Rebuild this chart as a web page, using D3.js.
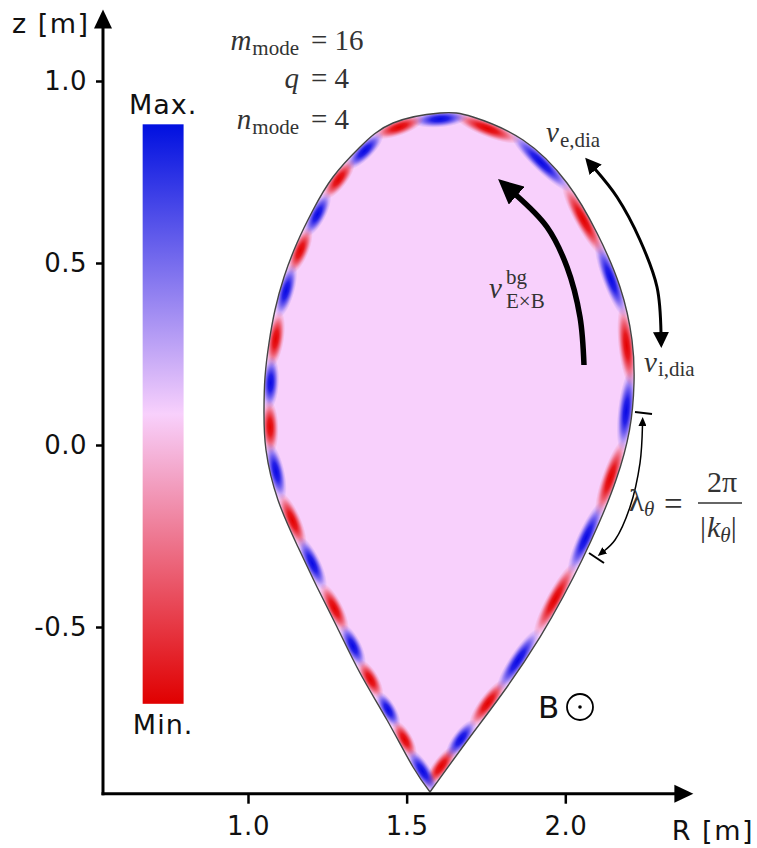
<!DOCTYPE html>
<html lang="en">
<head>
<meta charset="utf-8">
<title>Edge mode</title>
<script src="https://cdn.jsdelivr.net/npm/d3@7"></script>
<style>
body { margin: 0; background: #fff; }
text { font-family: "DejaVu Sans", sans-serif; fill: #111; }
.math { font-family: "Liberation Serif", serif; fill: #333; }
</style>
</head>
<body>
<script>
var w = 757, h = 848;

// axes
var rTicks = [1.0, 1.5, 2.0];
var zTicks = [1.0, 0.5, 0.0, -0.5];
var rAxisExtent = [0.543, 2.35];
var zAxisExtent = [-0.958, 1.15];

// separatrix boundary (R, z), from X-point round and back to X-point
var boundary = [
  [1.5736, -0.9533], [1.6997, -0.8022], [1.8163, -0.6648], [1.9203, -0.5275],
  [1.9927, -0.4176], [2.0526, -0.3159], [2.1062, -0.2143], [2.1598, -0.0962],
  [2.2023, 0.0412], [2.2165, 0.1703], [2.2102, 0.2885], [2.1724, 0.4341],
  [2.0999, 0.5824], [2.0054, 0.7198], [1.8667, 0.8379], [1.7091, 0.9011],
  [1.6051, 0.9121], [1.4570, 0.8846], [1.3530, 0.8187], [1.2679, 0.7363],
  [1.2049, 0.6456], [1.1544, 0.5549], [1.1135, 0.4615], [1.0851, 0.3709],
  [1.0662, 0.2802], [1.0536, 0.1868], [1.0504, 0.0962], [1.0567, -0.0137],
  [1.0945, -0.1511], [1.1576, -0.2802], [1.2175, -0.3901], [1.2805, -0.5000],
  [1.3530, -0.6264], [1.4381, -0.7555], [1.5200, -0.8846], [1.5736, -0.9533]
];

// mode structure: blob centres and sign (+1 max / -1 min)
var blobR = [1.6146, 1.6744, 1.7532, 1.8478, 1.9581, 2.0558, 2.1251, 2.1693,
             2.1787, 2.1314, 2.0369, 1.9108, 1.7532, 1.6051,
             1.4790, 1.3750, 1.2962, 1.2269, 1.1796, 1.1387, 1.1008, 1.0788,
             1.0788, 1.1072, 1.1418, 1.2017, 1.2647, 1.3278, 1.3782, 1.4381,
             1.4948, 1.5515];
var blobZ = [-0.887, -0.810, -0.709, -0.591, -0.418, -0.253, -0.088, 0.096,
             0.269, 0.453, 0.610, 0.764, 0.865, 0.890,
             0.863, 0.802, 0.723, 0.632, 0.530, 0.420, 0.288, 0.170,
             0.049, -0.069, -0.206, -0.324, -0.453, -0.555, -0.646, -0.728,
             -0.810, -0.893];
var blobSign = [-1, 1, -1, 1, -1, 1, -1, 1, -1, 1, -1, 1, -1, 1,
                -1, 1, -1, 1, -1, 1, -1, 1, -1, 1, -1, 1, -1, 1, -1, 1, -1, 1];

// annotation arrows
var exbArrow = [[2.0589, 0.2198], [2.0463, 0.3516], [2.0054, 0.4890], [1.9423, 0.5989], [1.8446, 0.6868]];
var diaArrow = [[2.0936, 0.7582], [2.1629, 0.6813], [2.2354, 0.5632], [2.2890, 0.4341], [2.3016, 0.3077]];
var lambdaArrow = [[2.2433, 0.055], [2.2354, -0.0495], [2.2039, -0.1703], [2.1566, -0.2610], [2.1220, -0.2912]];
var lambdaBars = [[[2.2197, 0.0907], [2.2733, 0.0852]], [[2.0747, -0.2967], [2.1220, -0.3242]]];

// colour bar
var cbarStops = ["#0010e0", "#f8d0fc", "#e00000"];
var cbarR = [0.668, 0.797];
var cbarZ = [0.881, -0.711];

var x = d3.scaleLinear().domain([1.0, 2.0]).range([248, 565.3]);
var y = d3.scaleLinear().domain([0.0, 1.0]).range([445, 81]);
var blobColor = d3.scaleOrdinal().domain([1, -1]).range(["#0808e4", "#e40000"]);

var svg = d3.select("body").append("svg")
  .attr("width", w)
  .attr("height", h);

var defs = svg.append("defs");

// colour bar gradient
var grad = defs.append("linearGradient")
  .attr("id", "cbar")
  .attr("x1", 0).attr("y1", 0).attr("x2", 0).attr("y2", 1);
grad.selectAll("stop")
  .data(cbarStops)
  .enter().append("stop")
  .attr("offset", function(d, i) { return i / (cbarStops.length - 1); })
  .attr("stop-color", function(d) { return d; });

[1, -1].forEach(function(s) {
  var rg = defs.append("radialGradient").attr("id", "blob" + (s > 0 ? "p" : "m"));
  [[0, 1], [0.3, 0.88], [0.55, 0.55], [0.8, 0.17], [1, 0]].forEach(function(st) {
    rg.append("stop").attr("offset", st[0])
      .attr("stop-color", blobColor(s)).attr("stop-opacity", st[1]);
  });
});

function marker(id, len, half) {
  defs.append("marker")
    .attr("id", id)
    .attr("markerUnits", "userSpaceOnUse")
    .attr("viewBox", [0, -half, len, 2 * half].join(" "))
    .attr("markerWidth", len)
    .attr("markerHeight", 2 * half)
    .attr("refX", 1)
    .attr("refY", 0)
    .attr("orient", "auto-start-reverse")
    .append("path")
    .attr("d", "M0," + (-half) + "L" + len + ",0L0," + half + "Z")
    .attr("fill", "#000");
}
marker("headBig", 25, 12);
marker("headMid", 16, 8);
marker("headSmall", 9, 4);

var line = d3.line()
  .x(function(d) { return x(d[0]); })
  .y(function(d) { return y(d[1]); });
var curve = d3.line()
  .x(function(d) { return x(d[0]); })
  .y(function(d) { return y(d[1]); })
  .curve(d3.curveCatmullRom.alpha(0.5));
var smooth = d3.line()
  .x(function(d) { return x(d[0]); })
  .y(function(d) { return y(d[1]); })
  .curve(d3.curveNatural);

defs.append("clipPath").attr("id", "sep")
  .append("path").attr("d", smooth(boundary));

// plasma
var sep = svg.append("path")
  .attr("d", smooth(boundary))
  .attr("fill", "#f8d0fc");

// put every blob on the boundary, a little inside, aligned with it
var node = sep.node(), L = node.getTotalLength();
var samples = d3.range(0, 1201).map(function(i) {
  var p = node.getPointAtLength(L * i / 1200);
  return [p.x, p.y, L * i / 1200];
});
var cx = x(1.62), cy = y(0.0);
var blobs = blobR.map(function(r, i) {
  var px = x(r), py = y(blobZ[i]);
  var k = d3.minIndex(samples, function(s) { return (s[0] - px) * (s[0] - px) + (s[1] - py) * (s[1] - py); });
  var a = samples[Math.max(0, k - 3)], b = samples[Math.min(samples.length - 1, k + 3)];
  var tx = b[0] - a[0], ty = b[1] - a[1], tl = Math.hypot(tx, ty);
  tx /= tl; ty /= tl;
  var nx = -ty, ny = tx;
  if (nx * (cx - samples[k][0]) + ny * (cy - samples[k][1]) < 0) { nx = -nx; ny = -ny; }
  return { s: samples[k][2], x: samples[k][0] + 6 * nx, y: samples[k][1] + 6 * ny,
           ang: Math.atan2(ty, tx) * 180 / Math.PI, sign: blobSign[i] };
});
var n = blobs.length;
blobs.forEach(function(d, i) {
  var sp = blobs[(i + 1) % n].s - blobs[(i - 1 + n) % n].s;
  if (sp < 0) sp += L;
  d.len = sp / 2;
});

svg.append("g")
  .attr("clip-path", "url(#sep)")
  .selectAll("ellipse")
  .data(blobs)
  .enter().append("ellipse")
  .attr("transform", function(d) { return "translate(" + d.x + "," + d.y + ") rotate(" + d.ang + ")"; })
  .attr("rx", function(d) { return 0.6 * d.len; })
  .attr("ry", function(d) { return Math.min(8.5, 0.23 * d.len); })
  .attr("fill", function(d) { return "url(#blob" + (d.sign > 0 ? "p" : "m") + ")"; });

svg.append("path")
  .attr("d", smooth(boundary))
  .attr("fill", "none")
  .attr("stroke", "#444")
  .attr("stroke-width", 1.4);

// axes
var x0 = x(rAxisExtent[0]), y0 = y(zAxisExtent[0]);
var xAxis = d3.axisBottom(x).tickValues(rTicks).tickSize(10).tickPadding(13)
  .tickFormat(function(d) { return d.toFixed(1); });
var yAxis = d3.axisLeft(y).tickValues(zTicks).tickSize(7).tickPadding(9)
  .tickFormat(function(d) { return d.toFixed(1); });

var gx = svg.append("g").attr("transform", "translate(0," + y0 + ")").call(xAxis);
var gy = svg.append("g").attr("transform", "translate(" + x0 + ",0)").call(yAxis);
[gx, gy].forEach(function(g) {
  g.select(".domain").remove();
  g.selectAll(".tick line").attr("stroke", "#000").attr("stroke-width", 2.5);
  g.selectAll(".tick text")
    .style("font-family", "'DejaVu Sans', sans-serif")
    .style("font-size", "26px")
    .style("letter-spacing", "0.5px")
    .attr("fill", "#111");
});

var xEnd = x(rAxisExtent[1]), yEnd = y(zAxisExtent[1]);
svg.append("line")
  .attr("x1", x0 - 1.5).attr("y1", y0).attr("x2", xEnd).attr("y2", y0)
  .attr("stroke", "#000").attr("stroke-width", 3);
svg.append("line")
  .attr("x1", x0).attr("y1", y0 + 1.5).attr("x2", x0).attr("y2", yEnd)
  .attr("stroke", "#000").attr("stroke-width", 3);
svg.append("path")
  .attr("d", "M" + (xEnd - 2) + "," + (y0 - 9) + "L" + (xEnd + 17) + "," + y0 + "L" + (xEnd - 2) + "," + (y0 + 9) + "Z")
  .attr("fill", "#000");
svg.append("path")
  .attr("d", "M" + (x0 - 9) + "," + (yEnd + 2) + "L" + x0 + "," + (yEnd - 17) + "L" + (x0 + 9) + "," + (yEnd + 2) + "Z")
  .attr("fill", "#000");

svg.append("text").attr("x", 12).attr("y", 33)
  .style("font-size", "27px").style("letter-spacing", "1.5px").text("z [m]");
svg.append("text").attr("x", 754).attr("y", 840).attr("text-anchor", "end")
  .style("font-size", "27px").style("letter-spacing", "1.5px").text("R [m]");

// colour bar
svg.append("rect")
  .attr("x", x(cbarR[0])).attr("y", y(cbarZ[0]))
  .attr("width", x(cbarR[1]) - x(cbarR[0]))
  .attr("height", y(cbarZ[1]) - y(cbarZ[0]))
  .attr("fill", "url(#cbar)");
var cbMid = (x(cbarR[0]) + x(cbarR[1])) / 2;
svg.append("text").attr("x", cbMid).attr("y", y(cbarZ[0]) - 10).attr("text-anchor", "middle")
  .style("font-size", "27px").style("letter-spacing", "1px").text("Max.");
svg.append("text").attr("x", cbMid).attr("y", y(cbarZ[1]) + 30).attr("text-anchor", "middle")
  .style("font-size", "27px").style("letter-spacing", "1px").text("Min.");

// mode parameters
function mathLine(yy, lhs, sub, rhs) {
  var t = svg.append("text").attr("class", "math").attr("x", 299).attr("y", yy)
    .attr("text-anchor", "end").style("font-size", "29px");
  t.append("tspan").style("font-style", "italic").text(lhs);
  if (sub) t.append("tspan").attr("dx", 1).attr("dy", 5).style("font-size", "21px").text(sub);
  svg.append("text").attr("class", "math").attr("x", 311).attr("y", yy)
    .style("font-size", "29px").text(rhs);
}
mathLine(50, "m", "mode", "= 16");
mathLine(88, "q", null, "= 4");
mathLine(129, "n", "mode", "= 4");

// arrows
svg.append("path").attr("d", curve(exbArrow))
  .attr("fill", "none").attr("stroke", "#000").attr("stroke-width", 5.5)
  .attr("marker-end", "url(#headBig)");
svg.append("path").attr("d", curve(diaArrow))
  .attr("fill", "none").attr("stroke", "#000").attr("stroke-width", 3)
  .attr("marker-start", "url(#headMid)").attr("marker-end", "url(#headMid)");
svg.append("path").attr("d", curve(lambdaArrow))
  .attr("fill", "none").attr("stroke", "#000").attr("stroke-width", 1.5)
  .attr("marker-start", "url(#headSmall)").attr("marker-end", "url(#headSmall)");
svg.selectAll(".lbar").data(lambdaBars).enter().append("path")
  .attr("class", "lbar").attr("d", line)
  .attr("stroke", "#000").attr("stroke-width", 2);

// velocity labels
var ve = svg.append("text").attr("class", "math").attr("x", 546).attr("y", 142).style("font-size", "29px");
ve.append("tspan").style("font-style", "italic").text("v");
ve.append("tspan").attr("dx", 1).attr("dy", 5).style("font-size", "21px").text("e,dia");

var vi = svg.append("text").attr("class", "math").attr("x", 644).attr("y", 372).style("font-size", "29px");
vi.append("tspan").style("font-style", "italic").text("v");
vi.append("tspan").attr("dx", 1).attr("dy", 4).style("font-size", "21px").text("i,dia");

svg.append("text").attr("class", "math").attr("x", 489).attr("y", 298)
  .style("font-size", "29px").style("font-style", "italic").text("v");
svg.append("text").attr("class", "math").attr("x", 506).attr("y", 284)
  .style("font-size", "21px").text("bg");
svg.append("text").attr("class", "math").attr("x", 506).attr("y", 308)
  .style("font-size", "21px").text("E×B");

// lambda_theta = 2 pi / |k_theta|
var lt = svg.append("text").attr("class", "math").attr("x", 629).attr("y", 511).style("font-size", "31px");
lt.append("tspan").text("λ");
lt.append("tspan").attr("dy", 5).style("font-size", "21px").style("font-style", "italic").text("θ");
svg.append("text").attr("class", "math").attr("x", 664).attr("y", 515).style("font-size", "33px").text("=");
svg.append("text").attr("class", "math").attr("x", 722).attr("y", 492).attr("text-anchor", "middle")
  .style("font-size", "30px").text("2π");
svg.append("line").attr("x1", 698).attr("x2", 742).attr("y1", 503).attr("y2", 503)
  .attr("stroke", "#333").attr("stroke-width", 1.3);
var kd = svg.append("text").attr("class", "math").attr("x", 700).attr("y", 537).style("font-size", "30px");
kd.append("tspan").text("|");
kd.append("tspan").attr("dx", 1).style("font-style", "italic").text("k");
kd.append("tspan").attr("dy", 5).style("font-size", "21px").style("font-style", "italic").text("θ");
kd.append("tspan").attr("dy", -5).text("|");

// B out of plane
svg.append("text").attr("x", 538).attr("y", 718).style("font-size", "31px").text("B");
svg.append("circle").attr("cx", 580).attr("cy", 707).attr("r", 13)
  .attr("fill", "none").attr("stroke", "#000").attr("stroke-width", 1.8);
svg.append("circle").attr("cx", 580).attr("cy", 707).attr("r", 1.8).attr("fill", "#000");
</script>
</body>
</html>
